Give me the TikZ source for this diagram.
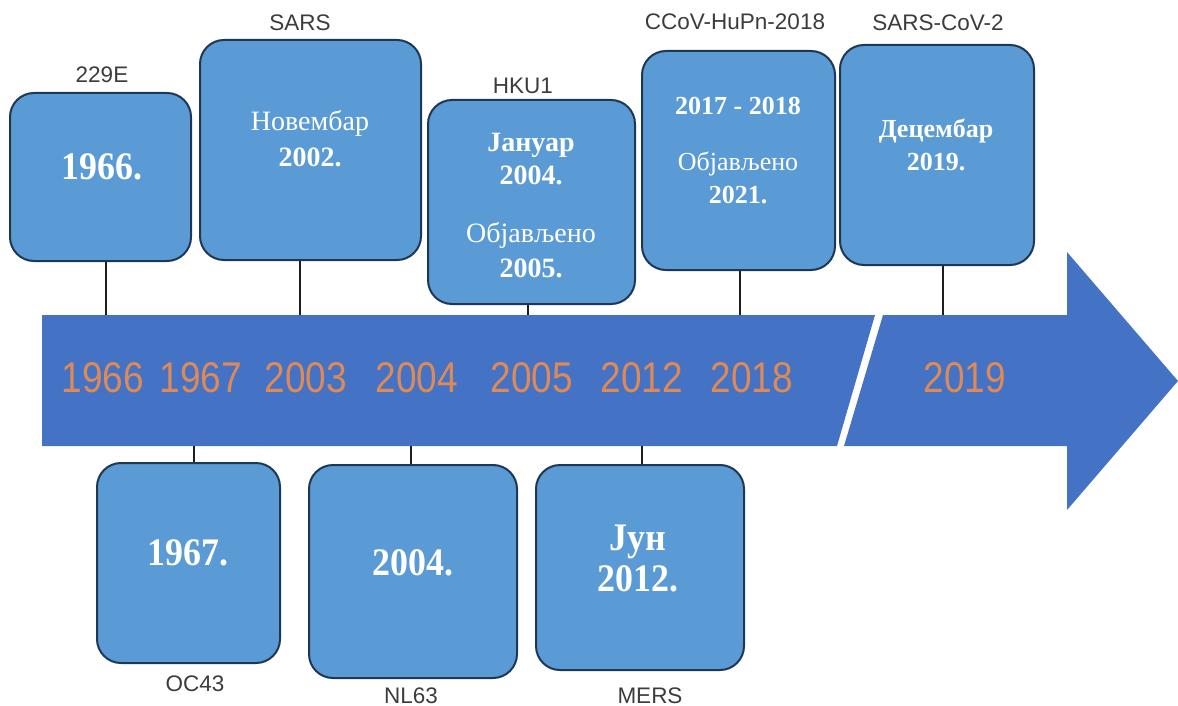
\documentclass[tikz,border=0pt]{standalone}
\usepackage{fontspec}
\setmainfont{Liberation Serif}
\newfontfamily\bigserif[FakeStretch=0.92]{Liberation Serif}
\newfontfamily\lblfont{Liberation Sans}
\newfontfamily\yearfont[FakeStretch=0.86]{Liberation Sans}
\definecolor{barblue}{RGB}{68,114,196}
\definecolor{boxblue}{RGB}{91,155,213}
\definecolor{boxedge}{RGB}{30,55,85}
\definecolor{yearorange}{RGB}{222,137,88}
\definecolor{lblgray}{RGB}{60,60,60}
\definecolor{linkcol}{RGB}{30,30,30}
\tikzset{
  evbox/.style={draw=boxedge, line width=2pt, fill=boxblue, rounded corners=24pt, inner sep=0pt},
  link/.style={draw=linkcol, line width=2pt},
  lbl/.style={anchor=base, inner sep=0pt, text=lblgray, font=\lblfont\fontsize{22.5}{24}\selectfont},
  yr/.style={anchor=base, inner sep=0pt, text=yearorange, font=\yearfont\fontsize{43}{46}\selectfont},
  bigt/.style={anchor=base, inner sep=0pt, text=white, font=\bigserif\bfseries\fontsize{39}{42}\selectfont},
  midb/.style={anchor=base, inner sep=0pt, text=white, font=\bfseries\fontsize{28}{32}\selectfont},
  midr/.style={anchor=base, inner sep=0pt, text=white, font=\fontsize{28}{32}\selectfont},
  smb/.style={anchor=base, inner sep=0pt, text=white, font=\bfseries\fontsize{26}{30}\selectfont},
  smr/.style={anchor=base, inner sep=0pt, text=white, font=\fontsize{26}{30}\selectfont},
}
\begin{document}
\begin{tikzpicture}[x=1pt, y=-1pt]
\useasboundingbox (0,0) rectangle (1178,706);

% timeline arrow
\fill[barblue] (42,315) -- (875,315) -- (837,446) -- (42,446) -- cycle;
\fill[barblue] (883,315) -- (1067,315) -- (1067,252) -- (1178,381) -- (1067,510) -- (1067,446) -- (844,446) -- cycle;

% years on the bar
\node[yr] (y1966) at (103,392) {1966};
\node[yr] (y1967) at (201,392) {1967};
\node[yr] (y2003) at (306,392) {2003};
\node[yr] (y2004) at (417,392) {2004};
\node[yr] (y2005) at (532,392) {2005};
\node[yr] (y2012) at (642,392) {2012};
\node[yr] (y2018) at (752,392) {2018};
\node[yr] (y2019) at (965,392) {2019};

% attachment points on the bar
\coordinate (t1) at (106,315);
\coordinate (t2) at (300,315);
\coordinate (t3) at (528,315);
\coordinate (t4) at (740,315);
\coordinate (t5) at (943,315);
\coordinate (u1) at (194,446);
\coordinate (u2) at (411,446);
\coordinate (u3) at (642,446);

% top boxes
\node[evbox, minimum width=181pt, minimum height=168pt] (b229) at (100.5,177) {};
\node[evbox, minimum width=221pt, minimum height=220pt] (bsars) at (310.5,150) {};
\node[evbox, minimum width=207pt, minimum height=204pt] (bhku) at (531.5,202) {};
\node[evbox, minimum width=193pt, minimum height=219pt] (bccov) at (738.5,160.5) {};
\node[evbox, minimum width=194pt, minimum height=220pt] (bcov2) at (937,155) {};
% bottom boxes
\node[evbox, minimum width=183pt, minimum height=200pt] (boc) at (188.5,563) {};
\node[evbox, minimum width=208pt, minimum height=213pt] (bnl) at (413,571.5) {};
\node[evbox, minimum width=208pt, minimum height=205pt] (bmers) at (640,567.5) {};

% connectors
\draw[link] (b229.south -| t1) -- (t1);
\draw[link] (bsars.south -| t2) -- (t2);
\draw[link] (bhku.south -| t3) -- (t3);
\draw[link] (bccov.south -| t4) -- (t4);
\draw[link] (bcov2.south -| t5) -- (t5);
\draw[link] (u1) -- (u1 |- boc.north);
\draw[link] (u2) -- (u2 |- bnl.north);
\draw[link] (u3) -- (u3 |- bmers.north);

% virus labels
\node[lbl] (l229) at (102,83) {229E};
\node[lbl] (lsars) at (300,31) {SARS};
\node[lbl] (lhku) at (523,94) {HKU1};
\node[lbl] (lccov) at (735,30) {CCoV-HuPn-2018};
\node[lbl] (lcov2) at (938,31) {SARS-CoV-2};
\node[lbl] (loc) at (195,691) {OC43};
\node[lbl] (lnl) at (411,703) {NL63};
\node[lbl] (lmers) at (650,703) {MERS};

% box texts
\node[bigt] (x1966) at (102,179) {1966.};
\node[midr] (xnov) at (310,131) {Новембар};
\node[midb] (x2002) at (310,166.5) {2002.};
\node[midb] (xjan) at (531,151.5) {Јануар};
\node[midb] (x2004a) at (531,184.5) {2004.};
\node[midr] (xobj1) at (531,242.5) {Објављено};
\node[midb] (x2005) at (531,277.5) {2005.};
\node[smb] (x1718) at (738,115) {2017 - 2018};
\node[smr] (xobj2) at (738,171) {Објављено};
\node[smb] (x2021) at (738,203) {2021.};
\node[smb] (xdec) at (936,138) {Децембар};
\node[smb] (x2019) at (936,171) {2019.};
\node[bigt] (x1967) at (188,565) {1967.};
\node[bigt] (x2004b) at (413,575) {2004.};
\node[bigt] (xjun) at (638,550) {Јун};
\node[bigt] (x2012) at (638,591) {2012.};
\end{tikzpicture}
\end{document}
